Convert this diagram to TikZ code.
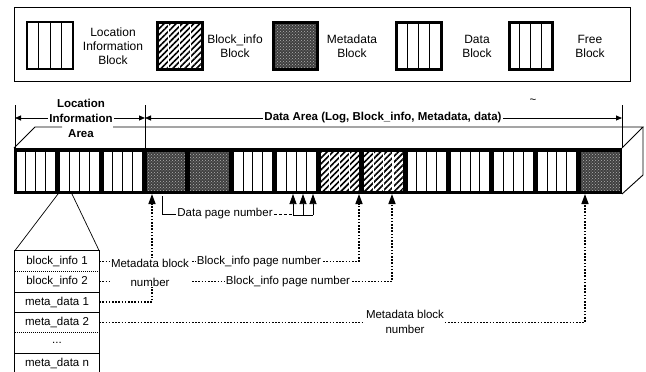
\documentclass[tikz,border=0pt]{standalone}
\usepackage{fontspec}
\setmainfont{Liberation Sans}
\usetikzlibrary{arrows.meta,patterns,patterns.meta}

\newcommand{\blkw}[5]{%
  \fill[white] (#1,#2) rectangle (#3,#4);
  \foreach \ii in {1,2,3} \draw[line width=0.9pt] ({#1+(#3-#1)*\ii/4},#2) -- ({#1+(#3-#1)*\ii/4},#4);
  \draw[line width=#5] (#1,#2) rectangle (#3,#4);}
\newcommand{\blkh}[5]{%
  \fill[white] (#1,#2) rectangle (#3,#4);
  \fill[pattern={Lines[angle=45,distance=4.2pt,line width=1.6pt]}] (#1,#2) rectangle (#3,#4);
  \foreach \ii in {1,2,3} \draw[white,line width=1.2pt] ({#1+(#3-#1)*\ii/4},#2) -- ({#1+(#3-#1)*\ii/4},#4);
  \draw[line width=#5] (#1,#2) rectangle (#3,#4);}
\newcommand{\blkm}[5]{%
  \fill[black!75] (#1,#2) rectangle (#3,#4);
  \fill[pattern=crosshatch dots, pattern color=white!70!black] (#1,#2) rectangle (#3,#4);
  \draw[line width=#5] (#1,#2) rectangle (#3,#4);}

\begin{document}
\begin{tikzpicture}[x=1pt,y=-1pt,
  txt/.style={font=\fontsize{11.5}{14}\selectfont, inner sep=1pt, align=center},
  ltxt/.style={font=\fontsize{12}{14}\selectfont, inner sep=1pt, align=center},
  btxt/.style={font=\bfseries\fontsize{11.5}{14}\selectfont, inner sep=1pt, align=center},
  dotline/.style={line width=1.4pt, dash pattern=on 1.6pt off 1.6pt},
  tip/.style={-{Triangle[width=7pt,length=10pt]}},
  dimtip/.style={{Triangle[width=5pt,length=6pt]}-{Triangle[width=5pt,length=6pt]}, line width=0.8pt},
  thin/.style={line width=0.7pt},
  row/.style={minimum width=84pt, minimum height=20.4pt, inner sep=0pt, font=\fontsize{11.5}{14}\selectfont},
  rowsep/.style={line width=0.7pt, dash pattern=on 1pt off 1pt},
]
\useasboundingbox (0,0) rectangle (646,372);

% legend
\draw[line width=0.8pt] (14,7) rectangle (630,81);
\blkw{27}{22}{73}{69}{1.3pt}
\blkh{157}{22}{202}{69}{3pt}
\blkm{273}{22}{317}{69}{3pt}
\blkw{396}{22}{441}{69}{3pt}
\blkw{509}{22}{552}{69}{3pt}
\node[ltxt] (lgL) at (113,46) {Location\\Information\\Block};
\node[ltxt] (lgB) at (235,46) {Block\_info\\Block};
\node[ltxt] (lgM) at (352,46) {Metadata\\Block};
\node[ltxt] (lgD) at (477,46) {Data\\Block};
\node[ltxt] (lgF) at (590,46) {Free\\Block};

% 3D top and side faces
\draw[line width=0.9pt] (14,148) -- (35,127) -- (62,127);
\draw[line width=0.9pt] (113,127) -- (643,127) -- (622,148);
\draw[line width=0.9pt] (643,127) -- (643,175) -- (622,194);

% strip
\fill[black] (14,148) rectangle (622,194);
\foreach \t [count=\i from 0] in {w,w,w,m,m,w,w,h,h,w,w,w,w,m}{
  \pgfmathsetmacro\xa{14+43.4286*\i+2}
  \pgfmathsetmacro\xb{14+43.4286*(\i+1)-2}
  \csname blk\t\endcsname{\xa}{151}{\xb}{191}{0.6pt}
}

% dimension lines
\coordinate (vL) at (15,105); \coordinate (vLb) at (15,148);
\coordinate (vM) at (145,105); \coordinate (vMb) at (145,148);
\coordinate (vR) at (622,105); \coordinate (vRb) at (622,148);
\draw[thin] (vL) -- (vLb);
\draw[thin] (vM) -- (vMb);
\draw[thin] (vR) -- (vRb);
\coordinate (dL) at (15,118); \coordinate (dM) at (145,118); \coordinate (dR) at (622,118);
\draw[dimtip] (dL) -- (dM);
\draw[dimtip] (dM) -- (dR);
\node[btxt] (locA) at (81,103) {Location};
\node[btxt, fill=white] (locB) at (81,118) {Information};
\node[btxt] (locC) at (81,134) {Area};
\node[btxt, fill=white] (darea) at (383,118) {Data Area (Log, Block\_info, Metadata, data)};
\node[txt] (tld) at (533,101) {\textasciitilde};

% table
\node[row] (r1) at (57,261.2) {block\_info 1};
\node[row] (r2) at (57,281.6) {block\_info 2};
\node[row] (r3) at (57,302.0) {meta\_data 1};
\node[row] (r4) at (57,322.4) {meta\_data 2};
\node[row] (r5) at (57,342.8) {...};
\node[row] (r6) at (57,363.2) {meta\_data n};
\draw[line width=0.8pt] (r1.north west) rectangle (r6.south east);
\draw[rowsep] (r1.south west) -- (r1.south east);
\draw[thin] (r2.south west) -- (r2.south east);
\draw[thin] (r3.south west) -- (r3.south east);
\draw[rowsep] (r4.south west) -- (r4.south east);
\draw[thin] (r5.south west) -- (r5.south east);

% triangle to block 2
\coordinate (trA) at (58,194); \coordinate (trB) at (72,194);
\draw[thin] (trA) -- (r1.north west);
\draw[thin] (trB) -- (r1.north east);

% arrow targets
\coordinate (aM1) at (152,194);
\coordinate (aM2) at (585,194);
\coordinate (aB1) at (359,194);
\coordinate (aB2) at (392,194);
\coordinate (dSrc) at (162,196);
\coordinate (aD1) at (293,194); \coordinate (aD2) at (303,194); \coordinate (aD3) at (313,194);
\coordinate (kD1) at (293,215); \coordinate (kD2) at (303,215); \coordinate (kD3) at (313,215);

% dotted connectors
\draw[dotline, tip] (r3.east) -| (aM1);
\draw[dotline, tip] (r4.east) -| (aM2);
\draw[dotline, tip] (r1.east) -| (aB1);
\draw[dotline, tip] (r2.east) -| (aB2);

\node[txt, fill=white, font=\fontsize{11.5}{19}\selectfont] (mb1) at (150,272.5) {Metadata block\\number};
\node[txt, fill=white] (bp1) at (259,262) {Block\_info page number};
\node[txt, fill=white] (bp2) at (288,282) {Block\_info page number};
\node[txt, fill=white, font=\fontsize{11.5}{15}\selectfont] (mb2) at (405,322) {Metadata block\\number};

% data page number
\node[txt, fill=white] (dpn) at (225,214) {Data page number};
\draw[thin] (dSrc) |- (dpn.west);
\draw[thin, densely dashed] (dpn.east) -| (kD1);
\draw[thin] (kD1) -- (kD3);
\draw[thin, tip] (kD1) -- (aD1);
\draw[thin, tip] (kD2) -- (aD2);
\draw[thin, tip] (kD3) -- (aD3);
\end{tikzpicture}
\end{document}
